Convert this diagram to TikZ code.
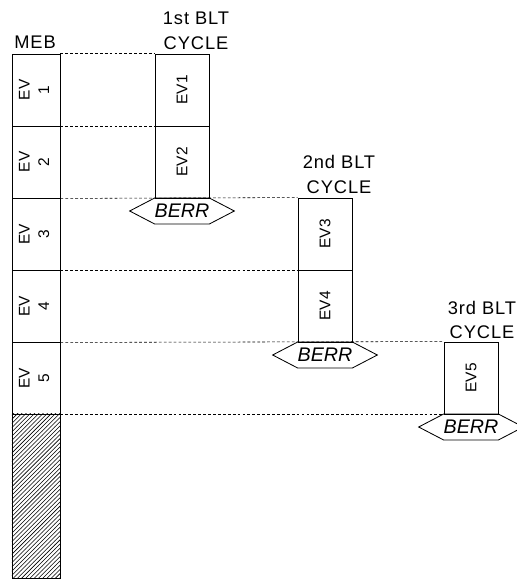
\documentclass[tikz,border=0pt]{standalone}
\usepackage{fontspec}
\setmainfont{Liberation Sans}
\newfontfamily\widefont{Liberation Sans}[LetterSpace=5]
\usepackage{graphicx}
\usetikzlibrary{patterns,shapes.symbols}
\newcommand{\upright}[1]{\rotatebox{90}{#1}}
\newcommand{\twoline}[2]{\rotatebox{90}{\begin{tabular}{@{}c@{}}#1\\[2pt]#2\end{tabular}}}
\begin{document}
\begin{tikzpicture}[x=0.025cm,y=-0.025cm,line width=0.6pt,
		meb/.style={draw, minimum width=1.2cm, minimum height=1.8cm, inner sep=0pt, font=\fontsize{11}{12}\selectfont},
		blt/.style={draw, minimum width=1.35cm, minimum height=1.8cm, inner sep=0pt, font=\fontsize{11}{12}\selectfont},
		berr/.style={draw, shape=signal, signal to=west and east, signal pointer angle=55, minimum width=2.575cm, minimum height=0.65cm, inner sep=0pt, font=\fontsize{14}{14}\selectfont\itshape},
		title/.style={align=center, font=\fontsize{13}{17.7}\selectfont\widefont},
		gap/.style={dash pattern=on 2pt off 1.5pt, line width=0.4pt}]
			\useasboundingbox (0,0) rectangle (517,583);
			
			\node[title] (meb)  at (35, 42)    {MEB};
			\node[title] (cyc1) at (196, 30.5) {1st BLT\\CYCLE};
			\node[title] (cyc2) at (339, 174.5) {2nd BLT\\CYCLE};
			\node[title] (cyc3) at (482, 320)  {3rd BLT\\CYCLE};
			
			\node[meb] (m1) at (36, 90)  {\twoline{EV}{1}};
			\node[meb] (m2) at (36, 162) {\twoline{EV}{2}};
			\node[meb] (m3) at (36, 234) {\twoline{EV}{3}};
			\node[meb] (m4) at (36, 306) {\twoline{EV}{4}};
			\node[meb] (m5) at (36, 378) {\twoline{EV}{5}};
			\node[meb, pattern=north east lines, minimum height=4.1cm] (hatch) at (36, 496) {};
			
			\node[blt] (ev1) at (182, 90)  {\upright{EV1}};
			\node[blt] (ev2) at (182, 162) {\upright{EV2}};
			\node[blt] (ev3) at (325, 234) {\upright{EV3}};
			\node[blt] (ev4) at (325, 306) {\upright{EV4}};
			\node[blt] (ev5) at (471, 378) {\upright{EV5}};
			
			\node[berr] (berr1) at (182, 211) {BERR};
			\node[berr] (berr2) at (325, 355) {BERR};
			\node[berr] (berr3) at (471, 427) {BERR};
			
			\draw[gap] (m1.north east) -- (ev1.north west);
			\draw[gap] (m1.south east) -- (ev1.south west);
			\draw[gap] (m2.south east) -- (ev3.north west);
			\draw[gap] (m3.south east) -- (ev3.south west);
			\draw[gap] (m4.south east) -- (ev5.north west);
			\draw[gap] (m5.south east) -- (ev5.south west);
		\end{tikzpicture}
\end{document}
